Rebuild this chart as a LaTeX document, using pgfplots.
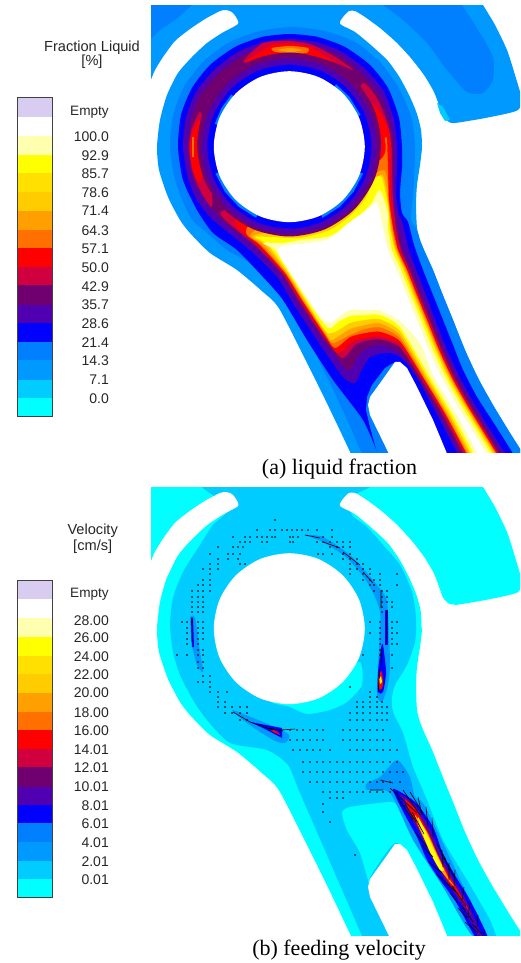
\documentclass[border=0pt]{standalone}
\usepackage{pgfplots}
\usepackage{pgfplotstable}
\usepackage{fontspec}
\pgfplotsset{compat=1.18}
\setmainfont{Liberation Serif}
\newfontfamily\arial{Liberation Sans}
\definecolor{c00}{HTML}{00FFFF}
\definecolor{c01}{HTML}{00CCFF}
\definecolor{c02}{HTML}{0099FF}
\definecolor{c03}{HTML}{0080FF}
\definecolor{c04}{HTML}{0000FF}
\definecolor{c05}{HTML}{5000B0}
\definecolor{c06}{HTML}{700070}
\definecolor{c07}{HTML}{D00040}
\definecolor{c08}{HTML}{FF0000}
\definecolor{c09}{HTML}{FF7000}
\definecolor{c10}{HTML}{FFA000}
\definecolor{c11}{HTML}{FFCC00}
\definecolor{c12}{HTML}{FFE000}
\definecolor{c13}{HTML}{FFFF00}
\definecolor{c14}{HTML}{FFFFB0}
\definecolor{c16}{HTML}{D8CCF0}
\pgfplotstableread{
x y
140 -15
470 -15
477 -5
483 5
495 25
507 50
515 75
522 100
518 110
505 114
480 119
455 123
449 122
443 116
440 108
434 92
424 75
410 57
396 42
380 28
365 17
355 11
349 11
343 17
340 24
355 32
372 46
388 61
400 78
410 97
417 114
421 130
422 147
420 165
417 185
416 205
417 228
420 240
424 250
433 270
442 293
453 320
465 350
478 378
493 405
510 433
522 452
530 466
530 480
362 480
358 468
352 456
335 420
317 383
280 310
263 292
237 270
210 253
190 233
180 220
168 197
159 170
157 147
160 120
167 95
178 73
192 57
207 43
222 33
238 24
236 17
232 12
226 10
220 11
205 19
190 29
175 41
163 57
155 70
150 82
145 92
140 90
}\tS
\pgfplotstableread{
x y
395 362
400 362
407 368
417 387
433 420
448 456
390 456
370 415
368 405
370 397
383 379
}\tNotch
\pgfplotstableread{
x y
238 24
236 17
232 12
226 10
220 11
205 19
190 29
175 41
163 57
155 70
150 82
145 92
145 105
158 110
167 95
178 73
192 57
207 43
222 33
}\tSlotL
\pgfplotstableread{
x y
340 24
343 17
349 11
355 11
365 17
380 28
396 42
410 57
424 75
434 92
440 108
443 116
449 122
455 124
430 145
422 147
421 130
417 114
410 97
400 78
388 61
372 46
355 32
}\tSlotR
\pgfplotstableread{
x y
364.8 146.7
359.1 175.6
342.7 200.1
318.2 216.5
289.3 222.2
260.4 216.5
235.9 200.1
219.5 175.6
213.8 146.7
219.5 117.8
235.9 93.3
260.4 76.9
289.3 71.2
318.2 76.9
342.7 93.3
359.1 117.8
}\tHole
\pgfplotstableread{
x y
371.3 146.7
365.1 178.1
347.3 204.7
320.7 222.5
289.3 228.7
257.9 222.5
231.3 204.7
213.5 178.1
207.3 146.7
213.5 115.3
231.3 88.7
257.9 70.9
289.3 64.7
320.7 70.9
347.3 88.7
365.1 115.3
}\tDiscB
\pgfplotstableread{
x y
377.0 146
370.3 179.6
351.3 208
322.9 227
289.3 233.7
255.7 227
227.3 208
208.3 179.6
201.6 146
208.3 112.4
227.3 84
255.7 65
289.3 58.3
322.9 65
351.3 84
370.3 112.4
}\tDiscP
\pgfplotstableread{
x y
381.2 144.5
374.2 179.7
354.2 209.5
324.4 229.5
289.2 236.5
254 229.5
224.2 209.5
204.2 179.7
197.2 144.5
204.2 109.3
224.2 79.5
254 59.5
289.2 52.5
324.4 59.5
354.2 79.5
374.2 109.3
}\tDiscM
\pgfplotstableread{
x y
140 -15
200 -15
197 -2
192 5
175 20
160 30
150 40
140 50
}\tBlobL
\pgfplotstableread{
x y
365 -15
372 -2
383 5
403 20
427 43
447 70
467 92
483 93
493 80
493 57
480 33
462 5
455 -5
450 -15
}\tBlobR
\pgfplotstableread{
x y
170 147
173 115
185 85
205 60
230 42
260 31
292 27
325 31
355 42
380 62
400 90
412 120
415 147
414 180
413 197
411 220
417 230
420 240
424 250
433 270
442 293
453 320
465 350
478 378
493 405
510 433
522 452
530 466
530 480
375 480
369 468
363 456
345 415
327 377
290 303
277 287
250 263
227 250
207 233
190 217
175 180
}\tLtwo
\pgfplotstableread{
x y
178 147
181 115
192 88
210 65
235 47
262 37
290 34
318 37
345 47
370 65
388 88
399 118
402 147
402 167
400 193
402 213
408 222
414 245
423 270
433 295
443 320
453 345
463 370
477 397
495 425
512 452
520 466
520 480
390 480
386 468
379 456
363 420
333 380
307 340
283 300
263 277
237 250
213 233
197 210
183 180
}\tLthree
\pgfplotstableread{
x y
183 147
186 118
196 92
214 70
238 52
264 42
290 39
316 42
342 52
366 70
384 92
394 120
397 147
397 170
396 195
399 215
402 222
409 250
417 272
426 295
435 320
447 350
460 378
475 405
492 433
507 456
515 468
515 480
470 480
466 468
459 456
433 407
413 370
397 355
383 353
370 357
363 367
355 383
343 377
317 340
293 303
277 277
250 250
213 220
197 200
188 178
}\tLfour
\pgfplotstableread{
x y
188 147
191 120
200 96
218 74
242 56
266 46
290 43
314 46
340 56
362 74
380 96
390 122
394 147
394 170
393 195
396 215
398 228
403 250
412 270
421 293
432 320
444 350
457 378
472 405
489 433
503 456
510 468
510 480
474 480
469 468
462 456
440 415
417 377
400 353
383 345
367 348
357 357
352 368
345 368
320 335
297 300
280 273
253 245
222 220
205 200
193 178
}\tLfive
\pgfplotstableread{
x y
225 220
255 245
282 273
299 300
322 335
342 358
355 345
365 341
380 339.3
400 347
420 377
443 415
465 456
472 468
472 480
507 480
507 468
500 456
486.5 433
469.5 405
454.5 378
441.5 350
429.5 320
418.5 293
409.5 270
401 250
396 228
393 200
392 173
392 150
388 125
378 100
363 83
350 110
300 200
225 210
}\tHa
\pgfplotstableread{
x y
237 227
258 245
284 273
301 300
324 335
338 353
352 342
365 338
380 336.7
400 344
422 377
445 415
467 456
474 468
474 480
506 480
506 468
499 456
485 433
468 405
453 378
440 350
428 320
417 293
408 270
399 250
394 228
391 200
390 170
390 135
380 112
370 103
360 120
300 200
240 215
}\tHb
\pgfplotstableread{
x y
247 235
260 245
285 273
302 300
325 335
335 348
350 337
365 333
380 331.7
400 341
423 377
446 415
468 456
475 468
475 480
505 480
505 468
498 456
484 433
467 405
452 378
439 350
427 320
416 293
407 270
398 250
393 228
389 200
388 170
387 140
385 138
380 160
300 200
250 225
}\tHc
\pgfplotstableread{
x y
250 236
262 245
286 273
303 300
326 335
333 343
350 335
365 329
380 327.3
400 338
424 377
447 415
469 456
476 468
476 480
504 480
504 468
497 456
483 433
466 405
451 378
438 350
426 320
415 293
406 270
397 250
392 228
388 200
388 187
383 170
350 190
300 225
260 228
}\tHd
\pgfplotstableread{
x y
252 237
265 245
287 273
304 300
327 335
332 340
350 329
365 325
380 323.3
400 335
425.5 377
448.5 415
470.5 456
477.5 468
477.5 480
503 480
503 468
496 456
482 433
465 405
450 378
437 350
425 320
414 293
405 270
396 250
391 228
388 200
382 175
360 190
300 232
265 233
}\tHe
\pgfplotstableread{
x y
255 237
268 245
288.5 273
305.5 300
328 333
350 323
365 320
380 319.3
400 331
427.5 377
450.5 415
472.5 456
479.5 468
479.5 480
501.5 480
501.5 468
494.5 456
480.5 433
463.5 405
448.5 378
435.5 350
423.5 320
412.5 293
403.5 270
395 250
390 228
388 205
382 178
375 178
365 199
350 216
330 230
300 238
270 237
}\tHf
\pgfplotstableread{
x y
263 243
275 250
290 273
307 300
328 328
338 322
350 316
365 315
380 315
400 327
430 377
453 415
475 456
482 468
482 480
499 480
499 468
492 456
478 433
461 405
446 378
433 350
421 320
410 293
401 270
392 250
388 228
388 213
380 190
371 204
355 220
330 236
300 240
283 243
}\tHg
\pgfplotstableread{
x y
278 253
293 277
307 297
320 317
330 323
340 316
350 310
370 310
380 310
400 321
420 343
434 377
457 415
479 456
486 468
486 480
495 480
495 468
488 456
474 433
457 405
442 378
429 350
417 320
406 293
397 270
388 250
383 228
377 203
367 210
347 224
327 240
283 246
}\tHh
% panel b
\pgfplotstableread{
x y
170 143
173 116
183 90
200 63
213 43
230 26
208 10
202 5
195 -5
195 -15
380 -15
380 -5
370 5
350 16
352 33
367 45
383 63
400 83
412 110
416 136
415 160
407 183
395 203
392 216
393 230
403 251
413 285
427 318
443 358
467 398
490 438
497 456
505 468
505 480
372 480
369 468
363 456
330 380
300 311
288 283
267 268
230 261
207 238
193 218
180 193
173 170
}\tBtwo
\pgfplotstableread{
x y
342 331
350 325
390 320
398 325
413 351
440 398
473 456
480 468
480 480
455 480
452 468
448 456
413 381
395 361
370 395
370 405
360 371
347 348
}\tPocket
\pgfplotstableread{
x y
272 220
290 225
307 232
330 228
347 220
362 203
360 180
340 190
300 210
}\tUnder
\pgfplotstableread{
x y
275 38
257 48
270 48
275 48
282 48
287 48
292 48
297 48
302 48
308 48
317 48
332 48
233 55
245 55
250 55
257 55
262 55
267 55
272 55
275 55
290 55
293 55
298 55
323 55
332 55
240 60
245 60
250 60
262 60
267 60
290 60
293 60
317 60
323 60
330 60
337 60
343 60
350 60
218 65
233 65
238 65
243 65
330 65
337 65
343 65
350 65
210 72
228 72
233 72
240 72
318 72
323 72
332 72
343 72
350 72
218 77
228 77
238 77
343 77
350 77
357 77
210 82
218 82
240 82
245 82
350 82
357 82
363 82
203 87
210 87
218 87
350 87
357 87
363 87
370 87
210 92
350 92
363 92
370 92
380 92
397 92
203 98
210 98
363 98
370 98
374 98
380 98
198 103
203 103
210 103
370 103
374 103
380 103
397 103
192 109
198 109
203 109
210 109
374 109
382 109
387 109
192 115
198 115
203 115
382 115
387 115
192 120
198 120
203 120
382 120
387 120
392 120
192 125
198 125
203 125
382 125
392 125
192 130
198 130
203 130
382 130
387 130
182 140
187 140
192 140
198 140
203 140
370 140
380 140
392 140
397 140
187 146
198 146
203 146
380 146
392 146
187 151
198 151
203 151
370 151
380 151
392 151
397 151
187 157
198 157
203 157
380 157
392 157
187 162
198 162
380 162
392 162
397 162
198 168
203 168
380 168
177 173
187 173
198 173
203 173
363 173
380 173
392 173
198 180
203 180
198 186
203 186
392 186
203 194
210 194
198 200
203 200
210 200
210 205
350 205
210 210
218 210
227 210
370 210
218 215
370 215
377 215
218 220
225 220
357 220
363 220
370 220
377 220
382 220
218 225
225 225
232 225
240 225
247 225
357 225
363 225
370 225
377 225
382 225
387 225
225 231
232 231
240 231
247 231
350 231
357 231
363 231
370 231
377 231
382 231
387 231
240 238
247 238
350 238
357 238
363 238
370 238
377 238
382 238
387 238
290 248
297 248
303 248
310 248
317 248
323 248
343 248
350 248
357 248
363 248
370 248
377 248
383 248
290 258
297 258
303 258
310 258
317 258
323 258
343 258
350 258
357 258
363 258
370 258
377 258
383 258
390 258
293 268
300 268
307 268
313 268
320 268
330 268
350 268
357 268
363 268
370 268
377 268
383 268
390 268
397 268
303 280
310 280
317 280
323 280
330 280
337 280
343 280
350 280
357 280
363 280
370 280
377 280
383 280
390 280
397 280
303 290
310 290
317 290
323 290
330 290
337 290
343 290
350 290
357 290
363 290
370 290
377 290
383 290
390 290
397 290
403 290
310 300
317 300
323 300
330 300
337 300
343 300
350 300
357 300
363 300
370 300
377 300
383 300
390 300
400 300
323 310
330 310
337 310
343 310
350 310
357 310
363 310
370 310
377 310
383 310
390 310
397 310
330 316
337 316
343 316
323 322
323 330
330 340
355 373
}\tDots
\pgfplotstableread{
x y
418 315
422 333
nan nan
426 325
428 345
nan nan
432 336
433 355
nan nan
442 368
443 385
nan nan
449 381
449 398
nan nan
455 388
454 405
nan nan
464 405
462 418
nan nan
470 421
468 435
nan nan
478 433
477 445
nan nan
485 448
483 453
nan nan
415 350
427 365
nan nan
422 363
433 375
nan nan
429 380
442 391
nan nan
450 411
458 421
nan nan
458 426
467 436
nan nan
465 440
478 451
nan nan
390 306
417 331
nan nan
397 315
413 338
nan nan
403 308
420 333
nan nan
410 310
423 331
nan nan
405 322
416 340
nan nan
412 330
424 352
nan nan
437 362
446 378
nan nan
444 376
455 396
nan nan
436 392
450 404
nan nan
445 400
458 412
nan nan
452 404
466 424
nan nan
462 424
473 440
nan nan
472 442
482 452
nan nan
370 308
383 308
nan nan
380 298
393 301
nan nan
250 240
273 248
nan nan
263 245
283 249
nan nan
280 248
295 247
nan nan
233 230
250 240
nan nan
381 108
381 126
nan nan
387 128
386 163
nan nan
382 166
381 183
nan nan
380 187
378 210
nan nan
192 135
192 160
nan nan
305 53
320 56
nan nan
323 60
340 66
nan nan
343 70
360 83
nan nan
363 90
373 101
}\tTicks
\newcommand\poly[2]{\addplot[fill=#1,draw=none,smooth cycle,tension=0.4,forget plot] table[x=x,y=y]{#2};}
\newcommand\spoly[2]{\addplot[fill=#1,draw=none,forget plot] table[x=x,y=y]{#2};}
\newcommand\rnd[2]{\addplot[fill=#1,draw=none,smooth cycle,forget plot] table[x=x,y=y]{#2};}
\newcommand\seg[3]{\addplot[fill=#3,draw=none,forget plot] coordinates {(17,#1)(52,#1)(52,#2)(17,#2)};}
\newcommand\lab[2]{\node[anchor=east,inner sep=0pt] at (axis cs:109,#1) {\arial\fontsize{14}{16}\selectfont\color{black!85}#2};}
\newcommand\tit[3]{\node[inner sep=0pt] at (axis cs:#1,#2) {\arial\fontsize{14.6}{16}\selectfont\color{black!85}#3};}
\newcommand\emp[1]{\node[anchor=west,inner sep=0pt] at (axis cs:70,#1) {\arial\fontsize{13.6}{16}\selectfont\color{black!85}Empty};}
\pgfplotsset{pic/.style={hide axis,scale only axis,width=369pt,height=447pt,xmin=151,xmax=520,ymin=6,ymax=453,y dir=reverse,anchor=south west}}
\begin{document}
\begin{tikzpicture}[x=1pt,y=1pt]
\useasboundingbox (0,0) rectangle (520,963);
\begin{axis}[hide axis,scale only axis,width=520pt,height=963pt,xmin=0,xmax=520,ymin=0,ymax=963,y dir=reverse,at={(0pt,0pt)},anchor=south west,clip=false]
\seg{97.7}{117.3}{c16}\seg{117.3}{135.7}{white}\seg{135.7}{155}{c14}\seg{155}{173.3}{c13}\seg{173.3}{192}{c12}\seg{192}{210.7}{c11}\seg{210.7}{230}{c10}\seg{230}{248.3}{c09}\seg{248.3}{267.3}{c08}\seg{267.3}{285.3}{c07}\seg{285.3}{305}{c06}\seg{305}{323.3}{c05}\seg{323.3}{341.7}{c04}\seg{341.7}{360}{c03}\seg{360}{380}{c02}\seg{380}{397.7}{c01}\seg{397.7}{416}{c00}
\addplot[draw=black!75,line width=0.8pt,forget plot] coordinates {(17,97.7)(52,97.7)(52,416)(17,416)(17,97.7)};
\seg{580.7}{599.3}{c16}\seg{599.3}{617.7}{white}\seg{617.7}{637.3}{c14}\seg{637.3}{655.7}{c13}\seg{655.7}{674}{c12}\seg{674}{692.7}{c11}\seg{692.7}{712}{c10}\seg{712}{730.3}{c09}\seg{730.3}{748.7}{c08}\seg{748.7}{767}{c07}\seg{767}{786.7}{c06}\seg{786.7}{805}{c05}\seg{805}{822.7}{c04}\seg{822.7}{841.7}{c03}\seg{841.7}{860.7}{c02}\seg{860.7}{879}{c01}\seg{879}{897.3}{c00}
\addplot[draw=black!75,line width=0.8pt,forget plot] coordinates {(17,580.7)(52,580.7)(52,897.3)(17,897.3)(17,580.7)};
\tit{92}{48}{Fraction Liquid}
\tit{92}{62}{[\%]}
\emp{112}
\lab{137}{100.0}
\lab{156}{92.9}
\lab{174}{85.7}
\lab{193}{78.6}
\lab{211}{71.4}
\lab{231}{64.3}
\lab{249}{57.1}
\lab{268}{50.0}
\lab{287}{42.9}
\lab{305}{35.7}
\lab{324}{28.6}
\lab{343}{21.4}
\lab{361}{14.3}
\lab{380}{7.1}
\lab{399}{0.0}
\tit{92.7}{531}{Velocity}
\tit{92.7}{547}{[cm/s]}
\emp{594}
\lab{620.7}{28.00}
\lab{638}{26.00}
\lab{656.7}{24.00}
\lab{675}{22.00}
\lab{693}{20.00}
\lab{712.7}{18.00}
\lab{731}{16.00}
\lab{750}{14.01}
\lab{768}{12.01}
\lab{787}{10.01}
\lab{806}{8.01}
\lab{824}{6.01}
\lab{842.7}{4.01}
\lab{861.7}{2.01}
\lab{880}{0.01}
\node[inner sep=0pt] at (axis cs:339.5,469) {\fontsize{22}{25}\selectfont (a) liquid fraction};
\node[inner sep=0pt] at (axis cs:339,950) {\fontsize{22}{25}\selectfont (b) feeding velocity};
\end{axis}
% panel a
\begin{axis}[pic,at={(151pt,510pt)}]
\poly{c02}{\tS}
\poly{c03}{\tBlobL}
\poly{c03}{\tBlobR}
\addplot[fill=c01,draw=none,forget plot] coordinates {(437,103)(443,107)(450,120)(445,121)(440,113)};
\poly{c03}{\tLtwo}
\poly{c04}{\tLthree}
\poly{c05}{\tLfour}
\poly{c06}{\tLfive}
\poly{c07}{\tHa}
\poly{c08}{\tHb}
\poly{c09}{\tHc}
\poly{c10}{\tHd}
\poly{c11}{\tHe}
\poly{c13}{\tHf}
\poly{c14}{\tHg}
\poly{white}{\tHh}
% crescents in the ring
\addplot[fill=c07,draw=none,smooth cycle,tension=0.4,forget plot] coordinates {(243,62)(263,43)(290,41)(313,45)(337,58)(353,70)(327,60)(293,58)(263,60)};
\addplot[fill=c08,draw=none,smooth cycle,tension=0.4,forget plot] coordinates {(245,62)(263,50)(272,45)(290,43)(310,47)(323,55)(337,63)(317,57)(290,55)(267,57)};
\addplot[fill=c09,draw=none,smooth cycle,tension=0.4,forget plot] coordinates {(272,48)(290,46)(308,48)(307,53)(290,53)(275,52)};
\addplot[fill=c10,draw=none,smooth cycle,tension=0.4,forget plot] coordinates {(278,50)(290,48)(303,50)(290,52)};
\addplot[fill=c07,draw=none,smooth cycle,tension=0.4,forget plot] coordinates {(200,112)(192,128)(189,147)(192,170)(200,190)(212,207)(210,170)(205,147)(205,125)};
\addplot[fill=c08,draw=none,smooth cycle,tension=0.4,forget plot] coordinates {(199,120)(192,133)(190,150)(193,170)(200,183)(205,160)(205,130)};
\addplot[fill=c09,draw=none,forget plot] coordinates {(192,137)(194,137)(194,157)(192,157)};
\rnd{c06}{\tDiscM}
\rnd{c05}{\tDiscP}
\rnd{c04}{\tDiscB}
\addplot[fill=c03,draw=none,forget plot] coordinates {(289,147)(215.5,173.6)(225,191.8)(238.8,206.8)(256.1,217.8)};
\addplot[fill=c03,draw=none,forget plot] coordinates {(289,147)(363.1,173.6)(353.6,191.8)(339.8,206.8)(322.5,217.8)};
\addplot[fill=c03,draw=none,forget plot] coordinates {(289,147)(214.7,123.9)(221.7,107.7)(231.4,94.5)};
\addplot[fill=c03,draw=none,forget plot] coordinates {(289,147)(336.1,84.3)(349.1,96.6)(360.6,114.9)};
\rnd{white}{\tHole}
\addplot[fill=c03,draw=none,forget plot] coordinates {(395,362)(385,368)(372,385)(367,397)(366,410)(370,427)(378,456)(392,456)(372,410)(372,397)};
\spoly{white}{\tNotch}
\end{axis}
% panel b
\begin{axis}[pic,at={(151pt,28pt)}]
\poly{c00}{\tS}
\poly{c01}{\tBtwo}
\poly{white}{\tSlotL}
\poly{white}{\tSlotR}
\poly{c00}{\tPocket}
\poly{c00}{\tUnder}
\addplot[fill=c02,draw=none,smooth cycle,tension=0.4,forget plot] coordinates {(305,53)(323,55)(350,73)(377,103)(387,120)(390,180)(388,203)(382,220)(377,213)(378,183)(380,130)(367,100)(347,76)(323,60)};
\addplot[fill=c02,draw=none,smooth cycle,tension=0.4,forget plot] coordinates {(190,136)(195,136)(200,170)(203,190)(197,183)(192,163)};
\addplot[fill=c02,draw=none,smooth cycle,tension=0.4,forget plot] coordinates {(233,228)(287,251)(285,261)(273,258)(247,241)};
\addplot[fill=c02,draw=none,smooth cycle,tension=0.4,forget plot] coordinates {(367,301)(380,295)(397,278)(410,295)(415,315)(427,328)(484,451)(470,451)(443,405)(413,358)(390,311)(367,308)};
\addplot[fill=c04,draw=none,smooth cycle,tension=0.4,forget plot] coordinates {(393,307)(415,320)(433,345)(443,372)(456,395)(470,418)(488,456)(476,456)(456,420)(440,398)(427,378)(417,355)(405,333)};
\addplot[fill=c05,draw=none,smooth cycle,tension=0.4,forget plot] coordinates {(400,312)(415,323)(431,348)(441,373)(453,396)(466,418)(483,456)(479,456)(460,420)(445,398)(432,376)(420,352)(408,330)};
\addplot[fill=c08,draw=none,smooth cycle,tension=0.4,forget plot] coordinates {(405,317)(416,328)(429,352)(439,375)(450,395)(460,412)(471,432)(466,425)(447,398)(432,372)(420,348)(410,330)};
\addplot[fill=c10,draw=none,smooth cycle,tension=0.4,forget plot] coordinates {(415,333)(427,350)(437,372)(448,395)(455,405)(450,400)(437,383)(427,363)(420,348)};
\addplot[fill=c13,draw=none,smooth cycle,tension=0.4,forget plot] coordinates {(418,335)(426,350)(436,372)(444,388)(440,388)(430,370)(422,350)};
\addplot[fill=c04,draw=none,smooth cycle,tension=0.4,forget plot] coordinates {(383,163)(386,190)(383,210)(378,210)(378,190)(381,166)};
\addplot[fill=c08,draw=none,smooth cycle,tension=0.4,forget plot] coordinates {(382,190)(383,203)(380,208)(378,200)(380,190)};
\addplot[fill=c13,draw=none,forget plot] coordinates {(381,194)(382,200)(380,202)(379,197)};
\addplot[fill=c04,draw=none,forget plot] coordinates {(385,128)(388,128)(388,163)(385,163)};
\addplot[fill=c04,draw=none,forget plot] coordinates {(250,240)(282,246)(282,256)(263,246)};
\addplot[fill=c08,draw=none,forget plot] coordinates {(267,245)(278,250)(280,253)(273,250)};
\addplot[fill=c04,draw=none,forget plot] coordinates {(191,136)(193,136)(194,165)(192,165)};
\rnd{white}{\tHole}
\spoly{white}{\tNotch}
\addplot[only marks,mark=*,mark size=0.5pt,mark options={draw=none,fill=black},forget plot] table[x=x,y=y]{\tDots};
\addplot[draw=black,line width=0.6pt,unbounded coords=jump,forget plot] table[x=x,y=y]{\tTicks};
\end{axis}
\end{tikzpicture}
\end{document}
